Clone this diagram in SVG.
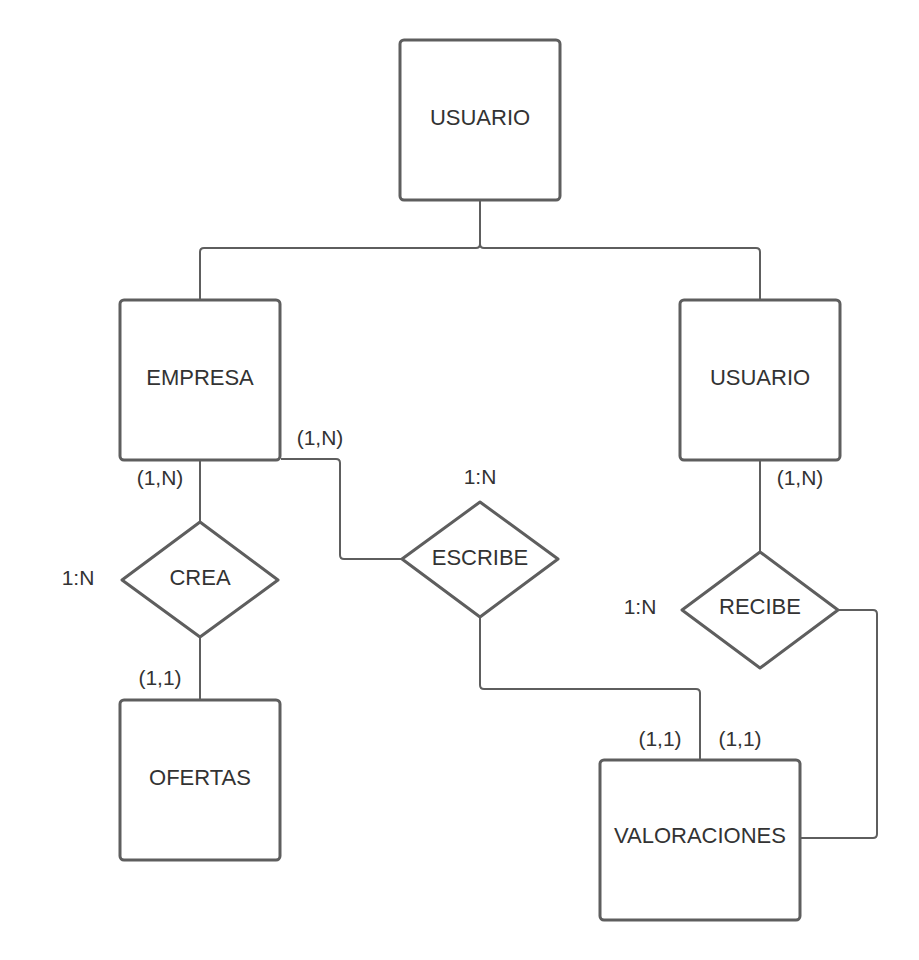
<svg xmlns="http://www.w3.org/2000/svg" width="919" height="960" viewBox="0 0 919 960">
<style>
.box{fill:#ffffff;stroke:#5e5e5e;stroke-width:3;stroke-linejoin:round}
.conn{fill:none;stroke:#5e5e5e;stroke-width:2;stroke-linejoin:round}
text{font-family:"Liberation Sans",Arial,sans-serif;font-size:21px;fill:#333333;text-anchor:middle}
.name{font-size:22px}
</style>
<rect width="919" height="960" fill="#ffffff"/>
<g id="connectors">
<path class="conn" d="M480,200 V244 Q480,248 476,248 H204 Q200,248 200,252 V300"/>
<path class="conn" d="M480,244 Q480,248 484,248 H756 Q760,248 760,252 V300"/>
<path class="conn" d="M200,460 V522"/>
<path class="conn" d="M200,637 V700"/>
<path class="conn" d="M281,459 H336 Q340,459 340,463 V555 Q340,559 344,559 H402"/>
<path class="conn" d="M480,617 V685 Q480,689 484,689 H696 Q700,689 700,693 V760"/>
<path class="conn" d="M760,460 V552"/>
<path class="conn" d="M838,610 H873 Q877,610 877,614 V834 Q877,838 873,838 H800"/>
</g>
<g id="usuario-top">
<rect class="box" x="400" y="40" width="160" height="160" rx="4"/>
<text class="name" x="480" y="125">USUARIO</text>
</g>
<g id="empresa">
<rect class="box" x="120" y="300" width="160" height="160" rx="4"/>
<text class="name" x="200" y="385">EMPRESA</text>
</g>
<g id="usuario-right">
<rect class="box" x="680" y="300" width="160" height="160" rx="4"/>
<text class="name" x="760" y="385">USUARIO</text>
</g>
<g id="crea">
<path class="box" d="M200,522 L278,580 L200,637 L122,580 Z"/>
<text class="name" x="200" y="585">CREA</text>
</g>
<g id="escribe">
<path class="box" d="M480,502 L558,559 L480,617 L402,559 Z"/>
<text class="name" x="480" y="565">ESCRIBE</text>
</g>
<g id="recibe">
<path class="box" d="M760,552 L838,610 L760,668 L682,610 Z"/>
<text class="name" x="760" y="614">RECIBE</text>
</g>
<g id="ofertas">
<rect class="box" x="120" y="700" width="160" height="160" rx="4"/>
<text class="name" x="200" y="785">OFERTAS</text>
</g>
<g id="valoraciones">
<rect class="box" x="600" y="760" width="200" height="160" rx="4"/>
<text class="name" x="700" y="843">VALORACIONES</text>
</g>
<g id="labels">
<text x="160" y="485">(1,N)</text>
<text x="320" y="445">(1,N)</text>
<text x="480" y="484">1:N</text>
<text x="800" y="485">(1,N)</text>
<text x="78" y="585">1:N</text>
<text x="640" y="614">1:N</text>
<text x="160" y="685">(1,1)</text>
<text x="660" y="746">(1,1)</text>
<text x="740" y="746">(1,1)</text>
</g>
</svg>
